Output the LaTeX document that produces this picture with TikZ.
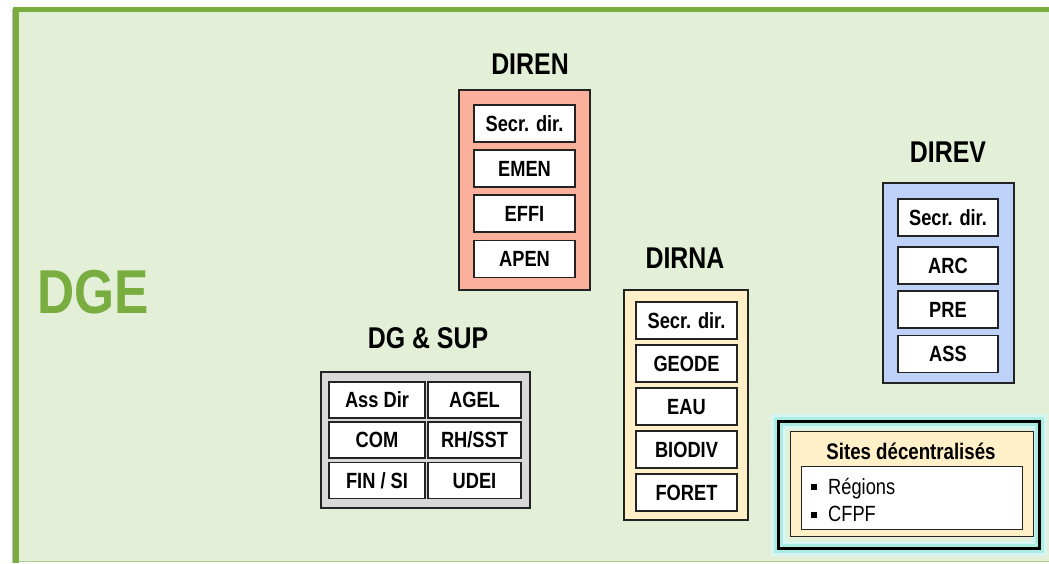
\documentclass[tikz,border=0pt]{standalone}
\usepackage{fontspec}
\setmainfont[FakeStretch=0.83]{Liberation Sans}
\usepackage{xcolor}
\usepackage{tikz}
\usetikzlibrary{positioning}
\definecolor{dgegreen}{RGB}{122, 173, 63}
\definecolor{dgeback}{RGB}{228, 239, 215}
\definecolor{direnred}{RGB}{251, 176, 155}
\definecolor{dirnacream}{RGB}{255, 240, 200}
\definecolor{direvblue}{RGB}{190, 209, 248}
\definecolor{supgray}{RGB}{217, 217, 217}
\definecolor{sitecyan}{RGB}{150, 232, 222}
\definecolor{boxline}{RGB}{35, 35, 35}
\tikzstyle{direction} = [
    rectangle,
    draw=boxline,
    line width=1.3pt,
    inner sep=0pt
]
\tikzstyle{service} = [
    rectangle,
    draw=boxline,
    line width=1.5pt,
    fill=white,
    minimum width=101pt,
    minimum height=37pt,
    inner sep=0pt,
    outer sep=0pt,
    text height=15.5pt,
    text depth=0pt,
    font=\fontsize{22}{24}\selectfont\bfseries
]
\tikzstyle{dirname} = [
    font=\fontsize{30}{34}\selectfont\bfseries
]
\tikzstyle{siteitem} = [
    anchor=base west,
    inner sep=0pt,
    font=\fontsize{22}{24}\selectfont
]

\begin{document}
\begin{tikzpicture}[x=1pt, y=-1pt]
    \useasboundingbox (0,0) rectangle (1049,563);
    % DGE frame
    \fill[dgeback] (16,10) rectangle (1049,562);
    \draw[dgegreen!60, line width=1.5pt] (16,561.5) -- (1049,561.5);
    \draw[gray!50, line width=1pt] (12.5,563) -- (12.5,9);
    \draw[dgegreen, line width=5.5pt] (16,563) -- (16,9.7) -- (1049,9.7);
    \node[text=dgegreen, font=\fontsize{62}{70}\selectfont\bfseries] (dge) at (93,292) {DGE};

    % DIREN
    \node[dirname] (direntitle) at (530,64) {DIREN};
    \node[direction, fill=direnred, minimum width=131pt, minimum height=200pt] (diren) at (524.5,190) {};
    \node[service] (secren) at (524.5,123.5) {Secr. dir.};
    \node[service, below=8pt of secren] (emen) {EMEN};
    \node[service, below=8pt of emen] (effi) {EFFI};
    \node[service, below=8.5pt of effi] (apen) {APEN};

    % DIRNA
    \node[dirname] (dirnatitle) at (685,258) {DIRNA};
    \node[direction, fill=dirnacream, minimum width=124pt, minimum height=230pt] (dirna) at (686,405) {};
    \node[service] (secrna) at (686.5,320.5) {Secr. dir.};
    \node[service, below=6pt of secrna] (geode) {GEODE};
    \node[service, below=6pt of geode] (eau) {EAU};
    \node[service, below=6pt of eau] (biodiv) {BIODIV};
    \node[service, below=6pt of biodiv] (foret) {FORET};

    % DIREV
    \node[dirname] (direvtitle) at (948,152) {DIREV};
    \node[direction, fill=direvblue, minimum width=131pt, minimum height=200pt] (direv) at (948.5,283) {};
    \node[service, minimum width=100pt] (secrev) at (948,217.5) {Secr. dir.};
    \node[service, minimum width=100pt, below=11pt of secrev] (arc) {ARC};
    \node[service, minimum width=100pt, below=7pt of arc] (pre) {PRE};
    \node[service, minimum width=100pt, below=7.5pt of pre] (ass) {ASS};

    % DG & SUP
    \node[dirname] (suptitle) at (428,338) {DG \& SUP};
    \node[direction, fill=supgray, minimum width=209pt, minimum height=136pt] (dgsup) at (425.5,440) {};
    \node[service, minimum width=96pt, minimum height=36pt] (assdir) at (377,400) {Ass Dir};
    \node[service, minimum width=93pt, minimum height=36pt, right=3pt of assdir] (agel) {AGEL};
    \node[service, minimum width=96pt, minimum height=36pt, below=4pt of assdir] (com) {COM};
    \node[service, minimum width=93pt, minimum height=36pt, right=3pt of com] (rhsst) {RH/SST};
    \node[service, minimum width=96pt, minimum height=36pt, below=4.5pt of com] (finsi) {FIN / SI};
    \node[service, minimum width=93pt, minimum height=36pt, right=3pt of finsi] (udei) {UDEI};

    % Sites decentralises
    \node[rectangle, draw=black, line width=3pt, minimum width=261pt, minimum height=127pt, inner sep=0pt,
        preaction={draw=sitecyan!40, line width=15pt},
        preaction={draw=sitecyan!80, line width=9pt}] (sites) at (908.5,484.5) {};
    \node[direction, fill=dirnacream, line width=1pt, minimum width=243pt, minimum height=105pt] (sitesbox) at (911.5,483.5) {};
    \node[font=\fontsize{22.5}{24}\selectfont\bfseries] (sitestitle) at (911,451) {Sites décentralisés};
    \node[direction, fill=white, line width=1pt, minimum width=221pt, minimum height=63pt] (sitelist) at (911.5,497.5) {};
    \node[siteitem] (regions) at (811,494) {\rule[4pt]{6pt}{6pt}\hspace{11pt}Régions};
    \node[siteitem] (cfpf) at (811,521.5) {\rule[4pt]{6pt}{6pt}\hspace{11pt}CFPF};
\end{tikzpicture}
\end{document}
